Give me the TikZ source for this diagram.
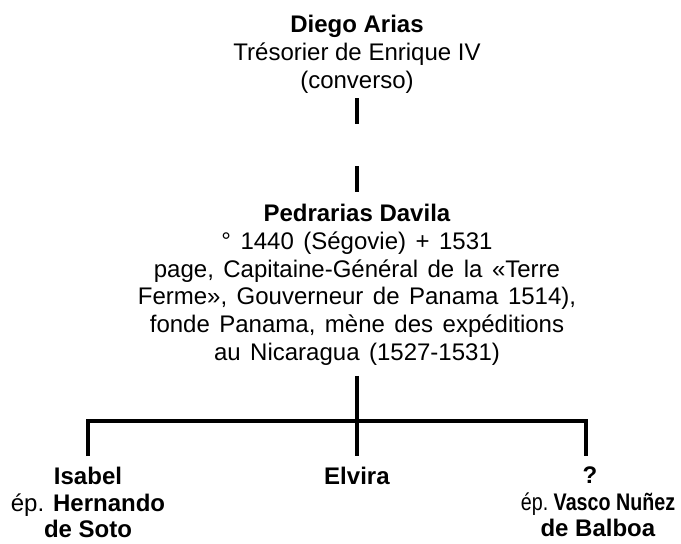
\documentclass[tikz,border=0pt]{standalone}
\usepackage{fontspec}
\setmainfont{Liberation Sans}
\newcommand\myWideSpace{\spaceskip=9.5pt\relax}
\begin{document}
\begin{tikzpicture}[x=1pt,y=-1pt,
  person/.style={align=center,inner sep=0pt,anchor=north,font=\fontsize{24pt}{27.8pt}\selectfont},
  link/.style={line width=4pt,line cap=butt,black}]
\useasboundingbox (0,0) rectangle (681,544);
\node[person] (diego) at (357,15) {\textbf{Diego Arias}\\Trésorier de Enrique IV\\(converso)};
\node[person,font=\fontsize{24pt}{27.8pt}\selectfont\myWideSpace] (pedro) at (357,204) {{\spaceskip=0pt\relax\textbf{Pedrarias Davila}}\\° 1440 (Ségovie) + 1531\\page, Capitaine-Général de la «Terre\\Ferme», Gouverneur de Panama 1514),\\fonde Panama, mène des expéditions\\au Nicaragua (1527-1531)};
\node[person,font=\fontsize{24pt}{26.5pt}\selectfont] (isabel) at (88,467) {\textbf{Isabel}\\ép. \textbf{Hernando}\\\textbf{de Soto}};
\node[person] (elvira) at (357,467) {\textbf{Elvira}};
\node[person,font=\fontsize{24pt}{26.5pt}\selectfont] (q) at (598,467) {\textbf{?}\hspace*{16pt}\\\scalebox{0.82}[1]{ép.\ \textbf{Vasco Nuñez}}\\\textbf{de Balboa}};
\coordinate (bar) at (357,421);
\draw[link,dash pattern=on 26pt off 42pt] (diego.south) ++(0,5) coordinate (d0) (d0) -- ([yshift=12pt]pedro.north);
\draw[link] (pedro.south) ++(0,10) coordinate (p0) (p0) -- ([yshift=11pt]elvira.north);
\draw[link] ([yshift=11pt]isabel.north) |- (bar) -| ([xshift=-12pt,yshift=11pt]q.north);
\end{tikzpicture}
\end{document}
